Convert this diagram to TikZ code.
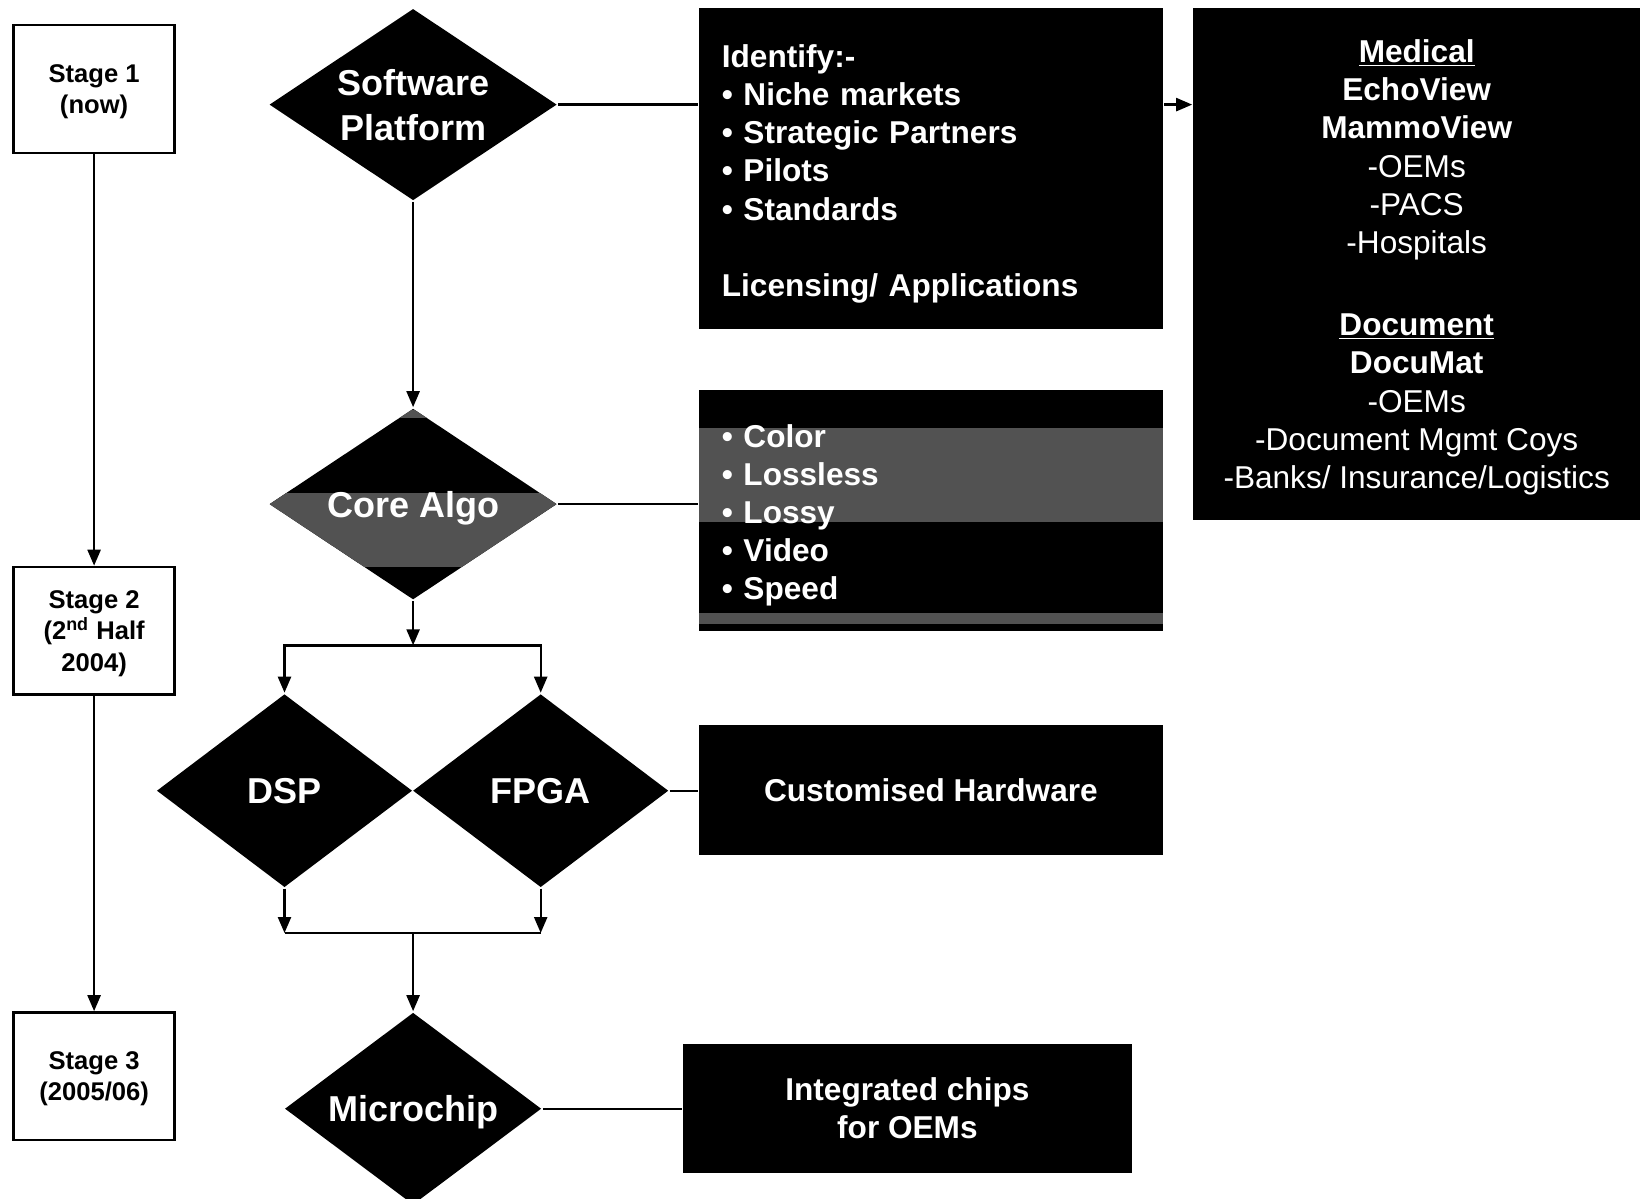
\documentclass[tikz,border=0pt]{standalone}
\usepackage{fontspec}
\setmainfont{Liberation Sans}
\usetikzlibrary{positioning,shapes.geometric,arrows.meta}

\begin{document}
\begin{tikzpicture}[
		x=0.5pt, y=-0.5pt,
		line width=1.2pt,
		>={Triangle[length=8pt,width=6.5pt]},
		stage/.style = {draw, fill=white, minimum width=80.5pt, minimum height=63.8pt, text depth=0pt,
			inner sep=0pt, align=center, font=\fontsize{12.8}{15.7}\selectfont\bfseries},
		decision/.style = {diamond, fill=black, text=white, inner sep=0pt, align=center, text depth=0pt,
			font=\fontsize{18}{22.5}\selectfont\bfseries},
		panel/.style = {fill=black, text=white, inner sep=0pt, text depth=0pt,
			font=\fontsize{15.8}{19.1}\selectfont\bfseries},
		items/.style = {panel, text depth=, text height=16.3pt, align=left, text width=209pt, inner xsep=11.5pt},
		halftone/.style = {fill=black!68}
	]
	\useasboundingbox (0,0) rectangle (1640,1199);

	% Stages.
	\node[stage] (s1) at (94.1,88.9) {Stage 1\\(now)};
	\node[stage] (s2) at (94.1,630.7) {Stage 2\\(2\textsuperscript{nd} Half\\2004)};
	\node[stage] (s3) at (94.1,1076.2) {Stage 3\\(2005/06)};

	% Level 1.
	\node[decision, aspect=1.5, minimum width=144pt, minimum height=96pt] (sp) at (413.1,104.6) {Software\\Platform};
	\node[items, minimum height=160.5pt] (idf) at (930.9,168.9)
		{Identify:-\\ \textbullet\ Niche markets\\ \textbullet\ Strategic Partners\\ \textbullet\ Pilots\\
		 \textbullet\ Standards\\[19.1pt] Licensing/ Applications};
	\node[panel, align=center, minimum width=223.3pt, minimum height=255.7pt,
		font=\fontsize{15.8}{19.1}\selectfont] (med) at (1416.7,264.1)
		{\textbf{\underline{Medical}}\\ \textbf{EchoView}\\ \textbf{MammoView}\\ -OEMs\\ -PACS\\ -Hospitals\\[22pt]
		 \textbf{\underline{Document}}\\ \textbf{DocuMat}\\ -OEMs\\ -Document Mgmt Coys\\ -Banks/ Insurance/Logistics};

	% Level 2.
	\node[decision, aspect=1.5, minimum width=144pt, minimum height=95.7pt,
		path picture={
			\fill[halftone] ([yshift=5.5pt]path picture bounding box.west) rectangle ([yshift=-31.5pt]path picture bounding box.east);
			\fill[halftone] ([yshift=47pt]path picture bounding box.west) rectangle ([yshift=43pt]path picture bounding box.east);
		}] (ca) at (413.1,504.1) {Core Algo};
	\node[items, minimum height=120.3pt,
		path picture={
			\fill[halftone] ([yshift=41.2pt]path picture bounding box.west) rectangle ([yshift=-5.8pt]path picture bounding box.east);
			\fill[halftone] ([yshift=-51.3pt]path picture bounding box.west) rectangle ([yshift=-56.8pt]path picture bounding box.east);
		}] (cai) at (930.9,510.4)
		{\textbullet\ Color\\ \textbullet\ Lossless\\ \textbullet\ Lossy\\ \textbullet\ Video\\ \textbullet\ Speed};

	% Level 3.
	\node[decision, aspect=1.3, minimum width=128pt, minimum height=96.8pt] (dsp) at (284.5,790.7) {DSP};
	\node[decision, aspect=1.3, minimum width=128pt, minimum height=96.8pt] (fpga) at (540.7,790.7) {FPGA};
	\node[panel, minimum width=232.2pt, minimum height=64.8pt] (hw) at (930.9,789.7) {Customised Hardware};

	% Level 4.
	\node[decision, aspect=1.3, minimum width=128.5pt, minimum height=96.3pt] (mc) at (413.1,1108.7) {Microchip};
	\node[panel, align=center, minimum width=224.3pt, minimum height=64.3pt] (ic) at (907.4,1108.2) {Integrated chips\\for OEMs};

	\coordinate (split) at (413.1,645.3);
	\coordinate (merge) at (413.1,933);

	\draw[->] (s1) to (s2);
	\draw[->] (s2) to (s3);
	\draw (sp) to (idf.west |- sp);
	\draw[->] (idf.east |- sp) to (med.west |- sp);
	\draw[->] (sp) to (ca);
	\draw (ca) to (ca -| cai.west);
	\draw[->] (ca) to (split);
	\draw[->] (split) -| (dsp);
	\draw[->] (split) -| (fpga);
	\draw (fpga) to (fpga -| hw.west);
	\draw[->] (dsp) to (dsp |- merge);
	\draw[->] (fpga) to (fpga |- merge);
	\draw (dsp |- merge) to (fpga |- merge);
	\draw[->] (merge) to (mc);
	\draw (mc) to (mc -| ic.west);
\end{tikzpicture}
\end{document}
